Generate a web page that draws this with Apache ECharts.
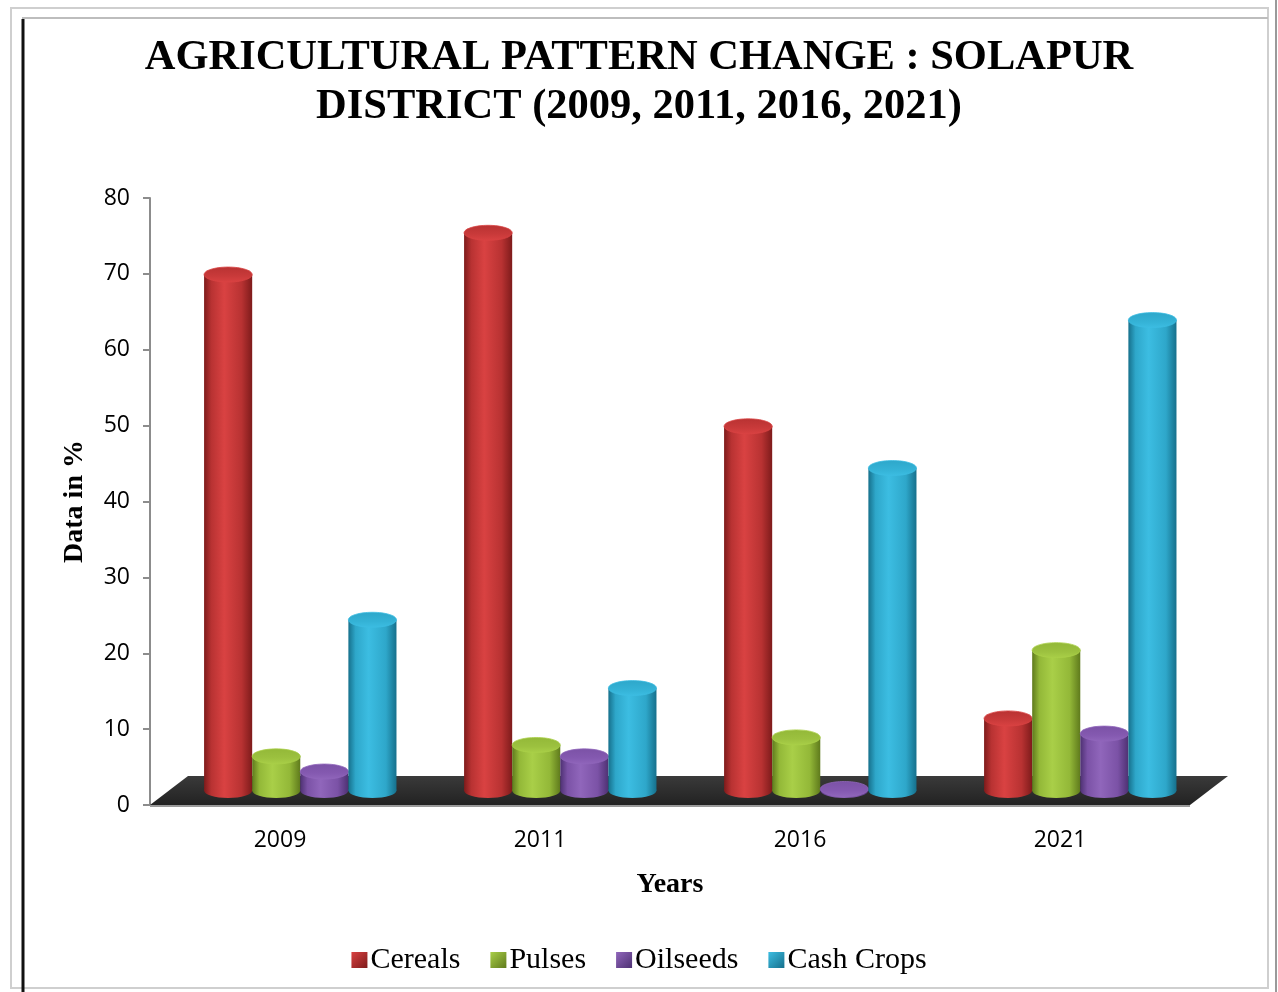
<!DOCTYPE html>
<html>
<head>
<meta charset="utf-8">
<script src="https://cdn.jsdelivr.net/npm/echarts@6/dist/echarts.min.js"></script>
<style>
html,body{margin:0;padding:0;background:#fff;}
#chart{width:1278px;height:992px;}
</style>
</head>
<body>
<div id="chart"></div>
<script>
// ---- data ----
const years = ['2009', '2011', '2016', '2021'];
const cereals = [68, 73.5, 48, 9.5];
const pulses = [4.5, 6, 7, 18.5];
const oilseeds = [2.5, 4.5, 0.2, 7.5];
const cashCrops = [22.5, 13.5, 42.5, 62];
const seriesNames = ['Cereals', 'Pulses', 'Oilseeds', 'Cash Crops'];
const titleLines = ['AGRICULTURAL PATTERN CHANGE : SOLAPUR', 'DISTRICT (2009, 2011, 2016, 2021)'];
const yMin = 0, yMax = 80, yStep = 10;

// ---- styling ----
const palettes = [
  {dark: '#7e1b1b', mid: '#b83232', light: '#d94242', top: '#c93a3a'},
  {dark: '#5f7a1c', mid: '#93b838', light: '#a9cf48', top: '#9cc13f'},
  {dark: '#4e3173', mid: '#7b52a6', light: '#9066bb', top: '#8459b0'},
  {dark: '#16708c', mid: '#2ea7ca', light: '#3cbde2', top: '#34b2d6'}
];
const seriesData = [cereals, pulses, oilseeds, cashCrops];

function cylinderRenderer(sIdx) {
  const pal = palettes[sIdx];
  return function (params, api) {
    const ci = api.value(0);
    const v = api.value(1);
    const base = api.coord([ci, 0]);
    const top = api.coord([ci, v]);
    const band = api.size([1, 0])[0];
    const w = band * 0.185;
    const dx = band * 0.078;
    const dy = 14.5;
    const cx = base[0] + dx + (sIdx - 1.5) * w;
    const yb = base[1] - dy;
    const yt = Math.min(top[1] - dy, yb);
    const ry = 7.5;
    const bodyGrad = new echarts.graphic.LinearGradient(0, 0, 1, 0, [
      {offset: 0, color: pal.dark},
      {offset: 0.15, color: pal.mid},
      {offset: 0.42, color: pal.light},
      {offset: 0.78, color: pal.mid},
      {offset: 1, color: pal.dark}
    ]);
    const topGrad = new echarts.graphic.LinearGradient(0, 0, 0, 1, [
      {offset: 0, color: pal.mid},
      {offset: 0.6, color: pal.top},
      {offset: 1, color: pal.light}
    ]);
    return {
      type: 'group',
      children: [
        {type: 'ellipse', shape: {cx: cx, cy: yb, rx: w / 2, ry: ry}, style: {fill: bodyGrad}},
        {type: 'rect', shape: {x: cx - w / 2, y: yt, width: w, height: yb - yt}, style: {fill: bodyGrad}},
        {type: 'ellipse', shape: {cx: cx, cy: yt, rx: w / 2, ry: ry}, style: {fill: topGrad, stroke: pal.light, lineWidth: 0.8}}
      ]
    };
  };
}

function floorRenderer(params, api) {
  const cs = params.coordSys;
  const x0 = cs.x, x1 = cs.x + cs.width, y0 = cs.y + cs.height;
  const ddx = 38, ddy = 29;
  return {
    type: 'group',
    children: [
      {type: 'polygon', shape: {points: [[x0, y0], [x1, y0], [x1 + ddx, y0 - ddy], [x0 + ddx, y0 - ddy]]},
       style: {fill: new echarts.graphic.LinearGradient(0, 0, 0, 1, [
         {offset: 0, color: '#3a3a3a'}, {offset: 1, color: '#222222'}])}},
      {type: 'line', shape: {x1: x0, y1: y0 + 1, x2: x1, y2: y0 + 1}, style: {stroke: '#9a9a9a', lineWidth: 2}}
    ]
  };
}

const series = [{
  type: 'custom',
  name: '_floor',
  renderItem: floorRenderer,
  data: [[0, 0]],
  silent: true,
  z: 1,
  encode: {x: 0, y: 1}
}];
seriesData.forEach(function (arr, i) {
  series.push({
    type: 'custom',
    name: seriesNames[i],
    renderItem: cylinderRenderer(i),
    data: arr.map(function (v, k) { return [k, v]; }),
    encode: {x: 0, y: 1},
    itemStyle: {color: new echarts.graphic.LinearGradient(0, 0, 1, 1, [
      {offset: 0, color: palettes[i].light}, {offset: 1, color: palettes[i].dark}])},
    z: 2
  });
});

const chart = echarts.init(document.getElementById('chart'), null, {renderer: 'canvas'});
chart.setOption({
  backgroundColor: '#ffffff',
  animation: false,
  title: {
    text: titleLines.join('\n'),
    left: 'center',
    top: 29,
    textStyle: {fontFamily: 'Liberation Serif', fontWeight: 'bold', fontSize: 42.5, lineHeight: 49, color: '#000'}
  },
  legend: {
    data: seriesNames,
    bottom: 12,
    left: 'center',
    icon: 'rect',
    itemWidth: 16,
    itemHeight: 16,
    itemGap: 30,
    textStyle: {fontFamily: 'Liberation Serif', fontSize: 30, color: '#000', padding: [0, 0, 0, -2]}
  },
  grid: {left: 150, right: 88, top: 198, bottom: 187},
  xAxis: {
    type: 'category',
    data: years,
    name: 'Years',
    nameLocation: 'middle',
    nameGap: 66,
    nameTextStyle: {fontFamily: 'Liberation Serif', fontWeight: 'bold', fontSize: 28, color: '#000'},
    axisLine: {show: false},
    axisTick: {show: false},
    axisLabel: {fontFamily: 'Open Sans', fontSize: 23, color: '#000', margin: 24}
  },
  yAxis: {
    type: 'value',
    min: yMin,
    max: yMax,
    interval: yStep,
    name: 'Data in %',
    nameLocation: 'middle',
    nameRotate: 90,
    nameGap: 61,
    nameTextStyle: {fontFamily: 'Liberation Serif', fontWeight: 'bold', fontSize: 28, color: '#000'},
    axisLine: {show: true, lineStyle: {color: '#8c8c8c', width: 2}},
    axisTick: {show: true, length: 7, lineStyle: {color: '#8c8c8c', width: 2}},
    splitLine: {show: false},
    axisLabel: {fontFamily: 'Open Sans', fontSize: 23, color: '#000', margin: 20}
  },
  graphic: [
    {type: 'rect', shape: {x: 11, y: 8, width: 1257, height: 980}, style: {fill: 'none', stroke: '#cfcfcf', lineWidth: 2}, silent: true},
    {type: 'line', shape: {x1: 22, y1: 18, x2: 1268, y2: 18}, style: {stroke: '#bdbdbd', lineWidth: 2}, silent: true},
    {type: 'line', shape: {x1: 23, y1: 19, x2: 23, y2: 992}, style: {stroke: '#111', lineWidth: 3}, silent: true},
    {type: 'line', shape: {x1: 1276, y1: 0, x2: 1276, y2: 992}, style: {stroke: '#9a9a9a', lineWidth: 2}, silent: true}
  ],
  series: series
});
</script>
</body>
</html>
